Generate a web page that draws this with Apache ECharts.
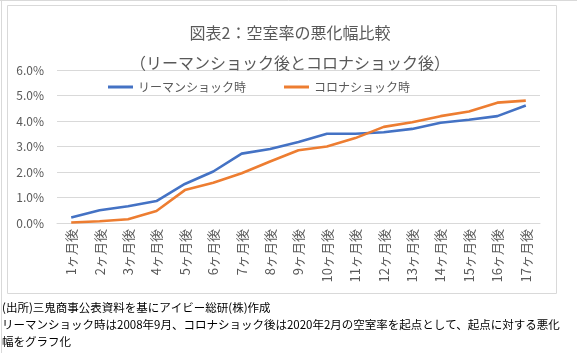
<!DOCTYPE html>
<html>
<head>
<meta charset="utf-8">
<script src="https://cdn.jsdelivr.net/npm/echarts@6/dist/echarts.min.js"></script>
<style>
  html, body { margin: 0; padding: 0; background: #fff; }
  #main { width: 577px; height: 353px; }
</style>
</head>
<body>
<div id="main"></div>
<script>
// data (percent)
const months = ['1ヶ月後', '2ヶ月後', '3ヶ月後', '4ヶ月後', '5ヶ月後', '6ヶ月後', '7ヶ月後', '8ヶ月後', '9ヶ月後',
  '10ヶ月後', '11ヶ月後', '12ヶ月後', '13ヶ月後', '14ヶ月後', '15ヶ月後', '16ヶ月後', '17ヶ月後'];
const lehman = [0.22, 0.50, 0.66, 0.86, 1.53, 2.02, 2.72, 2.90, 3.18, 3.50, 3.50, 3.56, 3.69, 3.93, 4.05, 4.19, 4.61];
const corona = [0.02, 0.07, 0.15, 0.47, 1.29, 1.58, 1.95, 2.41, 2.85, 3.00, 3.33, 3.77, 3.95, 4.19, 4.37, 4.72, 4.80];
const seriesNames = ['リーマンショック時', 'コロナショック時'];
const titleText = '図表2：空室率の悪化幅比較';
const subtitleText = '（リーマンショック後とコロナショック後）';
const notes = [
  '(出所)三鬼商事公表資料を基にアイビー総研(株)作成',
  'リーマンショック時は2008年9月、コロナショック後は2020年2月の空室率を起点として、起点に対する悪化',
  '幅をグラフ化'
];

const font = '"Noto Sans CJK JP", "Noto Sans", sans-serif';
const gray = '#595959';
const gridGray = '#d9d9d9';

const chart = echarts.init(document.getElementById('main'));

const noteText = notes.map((t, i) => ({
  type: 'text',
  left: 2,
  top: 302 + i * 17,
  style: { text: t, fill: '#000', font: '11.5px ' + font }
}));

chart.setOption({
  animation: false,
  textStyle: { fontFamily: font },
  title: [
    {
      text: titleText,
      left: 285, top: 20, textAlign: 'center',
      textStyle: { color: gray, fontSize: 16, fontWeight: 'normal', fontFamily: font }
    },
    {
      text: subtitleText,
      left: 285, top: 50, textAlign: 'center',
      textStyle: { color: gray, fontSize: 16, fontWeight: 'normal', fontFamily: font }
    }
  ],
  legend: {
    left: 103,
    top: 76,
    icon: 'rect',
    itemWidth: 25,
    itemHeight: 3,
    itemGap: 38,
    textStyle: { color: gray, fontSize: 12, fontFamily: font },
    data: seriesNames
  },
  grid: { left: 57, right: 37, top: 70, bottom: 130 },
  xAxis: {
    type: 'category',
    data: months,
    boundaryGap: true,
    axisLine: { lineStyle: { color: gridGray } },
    axisTick: { show: false },
    axisLabel: { rotate: 90, color: gray, fontSize: 13, margin: 6, interval: 0, fontFamily: font }
  },
  yAxis: {
    type: 'value',
    min: 0, max: 6, interval: 1,
    axisLine: { show: false },
    axisTick: { show: false },
    axisLabel: {
      color: gray, fontSize: 12, margin: 13, fontFamily: font,
      formatter: v => v.toFixed(1) + '%'
    },
    splitLine: { lineStyle: { color: gridGray, width: 1 } }
  },
  series: [
    {
      name: seriesNames[0], type: 'line', data: lehman,
      symbol: 'none', color: '#4472c4',
      lineStyle: { width: 2.6, color: '#4472c4' }
    },
    {
      name: seriesNames[1], type: 'line', data: corona,
      symbol: 'none', color: '#ed7d31',
      lineStyle: { width: 2.6, color: '#ed7d31' }
    }
  ],
  graphic: [
    { type: 'rect', shape: { x: 7.5, y: 5.5, width: 549, height: 288 },
      style: { fill: 'none', stroke: gridGray, lineWidth: 1 }, silent: true },
    { type: 'line', shape: { x1: 1.5, y1: 0, x2: 1.5, y2: 353 },
      style: { stroke: gridGray, lineWidth: 1 }, silent: true },
    { type: 'line', shape: { x1: 0, y1: 0.5, x2: 577, y2: 0.5 },
      style: { stroke: gridGray, lineWidth: 1 }, silent: true }
  ].concat(noteText)
});
</script>
</body>
</html>
